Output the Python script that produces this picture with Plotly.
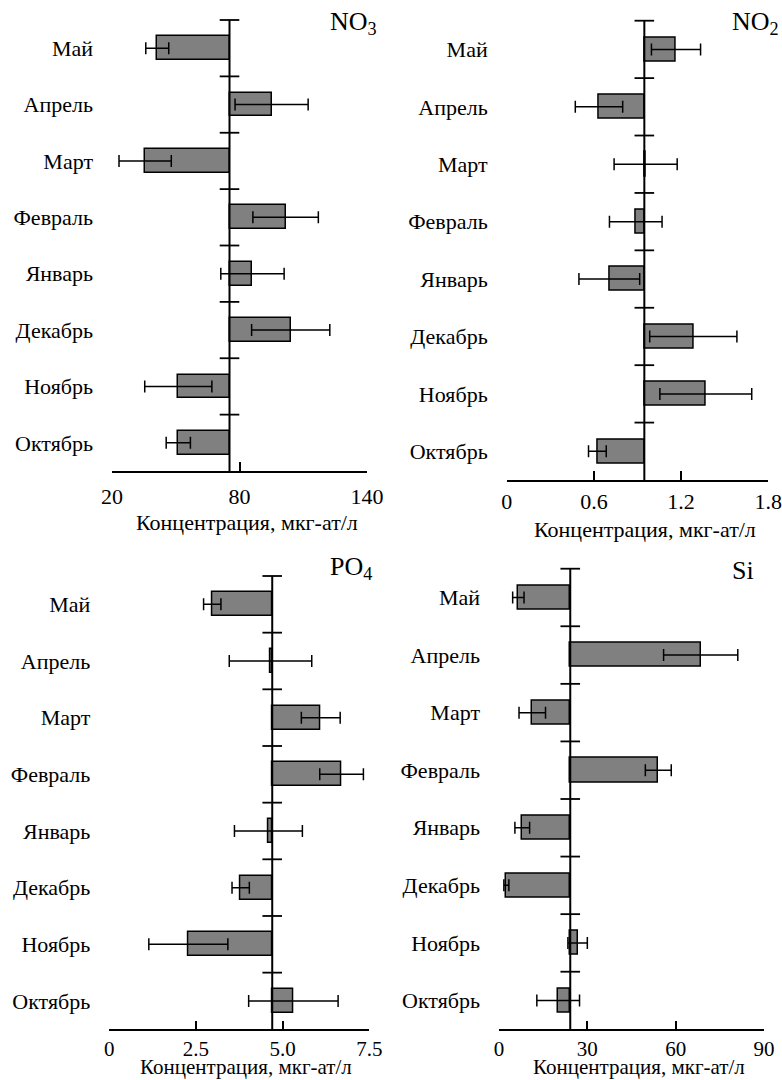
import plotly.graph_objects as go

# Months, bottom to top
months = ["Октябрь", "Ноябрь", "Декабрь", "Январь", "Февраль", "Март", "Апрель", "Май"]

# NO3
no3_vals = [51.2, 51.2, 104.1, 86.1, 101.7, 35.6, 95.1, 41.3]
no3_err = [5.7, 15.8, 18.4, 14.9, 15.4, 12.3, 17.2, 5.4]
no3_base = 75.3
no3_ticks = [20, 80, 140]
no3_range = [20, 140]

# NO2
no2_vals = [0.624, 1.37, 1.284, 0.706, 0.888, 0.956, 0.635, 1.165]
no2_err = [0.061, 0.316, 0.30, 0.209, 0.181, 0.217, 0.163, 0.169]
no2_base = 0.947
no2_ticks = [0, 0.6, 1.2, 1.8]
no2_ticktext = ["0", "0.6", "1.2", "1.8"]
no2_range = [0, 1.8]

# PO4
po4_vals = [5.31, 2.28, 3.79, 4.59, 6.70, 6.10, 4.65, 2.97]
po4_err = [1.29, 1.14, 0.25, 0.98, 0.63, 0.56, 1.19, 0.25]
po4_base = 4.70
po4_ticks = [0, 2.5, 5.0, 7.5]
po4_ticktext = ["0", "2.5", "5.0", "7.5"]
po4_range = [0, 7.5]

# Si
si_vals = [20.1, 26.7, 2.5, 7.9, 54.1, 11.3, 68.5, 6.57]
si_err = [7.25, 3.3, 0.85, 2.5, 4.4, 4.5, 12.6, 1.93]
si_base = 24.2
si_ticks = [0, 30, 60, 90]
si_range = [0, 90]

W, H = 782, 1080
FONT = "'Liberation Serif', 'Times New Roman', Times, serif"
axis_title = "Концентрация, мкг-ат/л"

panels = [
    dict(vals=no3_vals, err=no3_err, base=no3_base, ticks=no3_ticks,
         ticktext=[str(t) for t in no3_ticks], rng=no3_range,
         xpx=(112, 367), ypx=(20, 471), title="NO<sub>3</sub>",
         title_pos=(379, 23), tick_standoff=5, tick_size=22,
         atitle=("top", 508), atitle_size=22),
    dict(vals=no2_vals, err=no2_err, base=no2_base, ticks=no2_ticks,
         ticktext=no2_ticktext, rng=no2_range,
         xpx=(506.7, 768.3), ypx=(20.7, 480), title="NO<sub>2</sub>",
         title_pos=(781, 23), tick_standoff=1, tick_size=22,
         atitle=("top", 515), atitle_size=22),
    dict(vals=po4_vals, err=po4_err, base=po4_base, ticks=po4_ticks,
         ticktext=po4_ticktext, rng=po4_range,
         xpx=(109.3, 369.3), ypx=(576, 1029.3), title="PO<sub>4</sub>",
         title_pos=(374, 568), tick_standoff=0, tick_size=21,
         atitle=("bottom", 1081), atitle_size=21),
    dict(vals=si_vals, err=si_err, base=si_base, ticks=si_ticks,
         ticktext=[str(t) for t in si_ticks], rng=si_range,
         xpx=(499, 764), ypx=(568.7, 1029.3), title="Si",
         title_pos=(756, 570), tick_standoff=0, tick_size=21,
         atitle=("bottom", 1081), atitle_size=21),
]

fig = go.Figure()
annotations = []
ypos = list(range(len(months)))
bounds = [i + 0.5 for i in range(len(months))]  # separators and top end
axes = {}

for k, p in enumerate(panels, start=1):
    xa = "x" if k == 1 else f"x{k}"
    ya = "y" if k == 1 else f"y{k}"
    base = p["base"]

    # deviation bars drawn from the reference level
    fig.add_trace(go.Bar(
        orientation="h", y=ypos, x=[v - base for v in p["vals"]], base=base,
        width=0.42, marker=dict(color="#808080", line=dict(color="black", width=1.5)),
        error_x=dict(type="data", array=p["err"], visible=True,
                     color="black", thickness=1.5, width=6),
        xaxis=xa, yaxis=ya, showlegend=False, hoverinfo="skip",
    ))
    # vertical reference line
    fig.add_trace(go.Scatter(
        x=[base, base], y=[-0.5, len(months) - 0.5], mode="lines",
        line=dict(color="black", width=2), xaxis=xa, yaxis=ya,
        showlegend=False, hoverinfo="skip",
    ))
    # small separators crossing the reference line
    fig.add_trace(go.Scatter(
        x=[base] * len(bounds), y=bounds, mode="markers",
        marker=dict(symbol="line-ew", size=14, line=dict(color="black", width=1.8)),
        xaxis=xa, yaxis=ya, showlegend=False, hoverinfo="skip", cliponaxis=False,
    ))

    x0, x1 = p["xpx"][0] / W, p["xpx"][1] / W
    y0, y1 = 1 - p["ypx"][1] / H, 1 - p["ypx"][0] / H
    xkey = "xaxis" if k == 1 else f"xaxis{k}"
    ykey = "yaxis" if k == 1 else f"yaxis{k}"
    axes[xkey] = dict(
        domain=[x0, x1], anchor=ya, range=p["rng"], tickvals=p["ticks"],
        ticktext=p["ticktext"], ticks="inside", ticklen=9, tickwidth=1.5,
        tickcolor="black", showline=True, linecolor="black", linewidth=1.5,
        showgrid=False, zeroline=False, ticklabelstandoff=p["tick_standoff"],
        ticklabeloverflow="allow", automargin=False,
        tickfont=dict(family=FONT, size=p["tick_size"], color="black"),
    )
    axes[ykey] = dict(
        domain=[y0, y1], anchor=xa, range=[-0.5, len(months) - 0.5],
        tickvals=ypos, ticktext=months, showline=False, showgrid=False,
        zeroline=False, ticks="", ticklabelstandoff=18, automargin=False,
        tickfont=dict(family=FONT, size=22, color="black"),
    )

    annotations.append(dict(
        text=p["title"], xref="paper", yref="paper",
        x=p["title_pos"][0] / W, y=1 - p["title_pos"][1] / H,
        xanchor="right", yanchor="middle", showarrow=False,
        font=dict(family=FONT, size=26, color="black"),
    ))
    anchor, ypx = p["atitle"]
    annotations.append(dict(
        text=axis_title, xref="paper", yref="paper",
        x=(x0 + x1) / 2 + 7 / W, y=1 - ypx / H,
        xanchor="center", yanchor=anchor, showarrow=False,
        font=dict(family=FONT, size=p["atitle_size"], color="black"),
    ))

fig.update_layout(
    width=W, height=H,
    margin=dict(l=0, r=0, t=0, b=0, autoexpand=False),
    font=dict(family=FONT, size=22, color="black"),
    paper_bgcolor="white", plot_bgcolor="white",
    annotations=annotations, bargap=0,
    **axes,
)

fig.write_html("out.html")
